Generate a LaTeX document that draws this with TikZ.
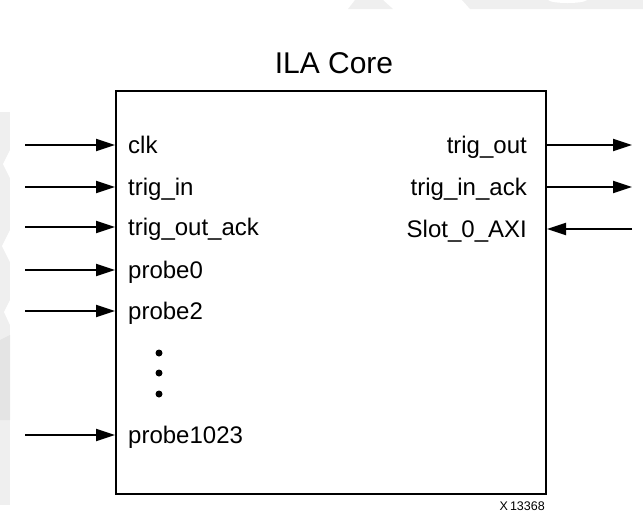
\documentclass[tikz,border=0pt]{standalone}
\usepackage{fontspec}
\setmainfont{Liberation Sans}
\usetikzlibrary{arrows.meta}
\definecolor{wm}{HTML}{EFEFEF}
\definecolor{wmdark}{HTML}{E4E4E4}
\begin{document}
\begin{tikzpicture}[x=1pt,y=-1pt,
  sig/.style={line width=2pt,-{Triangle[length=19pt,width=12pt]}},
  port/.style={font=\fontsize{24}{26}\selectfont,inner sep=0pt},
  lport/.style={port,anchor=base west},
  rport/.style={port,anchor=base east},
  dotmark/.style={circle,fill=black,inner sep=0pt,minimum size=7pt}]
\useasboundingbox (0,0) rectangle (643,515);

% faint background marks
\fill[wm] (348,9) -- (355,0) -- (383,0) -- (393,9) -- cycle;
\fill[wm] (462,0) -- (643,0) -- (643,9) -- (470,9) -- cycle;
\fill[white] (548,0) .. controls (552,4) and (583,4) .. (587,0) -- cycle;
\fill[wm] (0,112) rectangle (10,505);
\fill[white] (10,150) -- (10,178) -- (3,164) -- cycle;
\fill[white] (10,230) -- (10,262) -- (2,246) -- cycle;
\fill[white] (10,300) -- (10,325) -- (4,312) -- cycle;
\fill[wmdark] (0,340) -- (10,335) -- (10,420) -- (0,420) -- cycle;

% title and block
\node[font=\fontsize{30}{32}\selectfont,anchor=base,inner sep=0pt] (title) at (334,73) {ILA Core};
\node[draw,line width=2pt,minimum width=430pt,minimum height=403pt,anchor=north west,inner sep=0pt] (core) at (115,90) {};

% input ports
\node[lport] (clk)   at (128,153.5) {clk};
\node[lport] (tin)   at (128,195.5) {trig\_in};
\node[lport] (toack) at (128,235.5) {trig\_out\_ack};
\node[lport] (p0)    at (128,278.5) {probe0};
\node[lport] (p2)    at (128,319.5) {probe2};
\node[lport] (p1023) at (128,443.5) {probe1023};

% output / bus ports
\node[rport] (tout)  at (527,153.5) {trig\_out};
\node[rport] (tiack) at (527,195.5) {trig\_in\_ack};
\node[rport] (axi)   at (527,237.5) {Slot\_0\_AXI};

% ellipsis between probes
\node[dotmark] (d1) at (159,353) {};
\node[dotmark] (d2) at (159,373) {};
\node[dotmark] (d3) at (159,394) {};

% free ends of the signal lines
\coordinate (sclk)   at (25,145);
\coordinate (stin)   at (25,187);
\coordinate (stoack) at (25,227);
\coordinate (sp0)    at (25,270);
\coordinate (sp2)    at (25,311);
\coordinate (sp1023) at (25,435);
\coordinate (etout)  at (632,145);
\coordinate (etiack) at (632,187);
\coordinate (saxi)   at (632,229);

\draw[sig] (sclk)   -- (sclk -| core.west);
\draw[sig] (stin)   -- (stin -| core.west);
\draw[sig] (stoack) -- (stoack -| core.west);
\draw[sig] (sp0)    -- (sp0 -| core.west);
\draw[sig] (sp2)    -- (sp2 -| core.west);
\draw[sig] (sp1023) -- (sp1023 -| core.west);
\draw[sig] (etout -| core.east)  -- (etout);
\draw[sig] (etiack -| core.east) -- (etiack);
\draw[sig] (saxi) -- (saxi -| core.east);

% figure number
\node[font=\fontsize{12.5}{14}\selectfont,anchor=base east,inner sep=0pt] (fig) at (545,510) {X\,13368};
\end{tikzpicture}
\end{document}
